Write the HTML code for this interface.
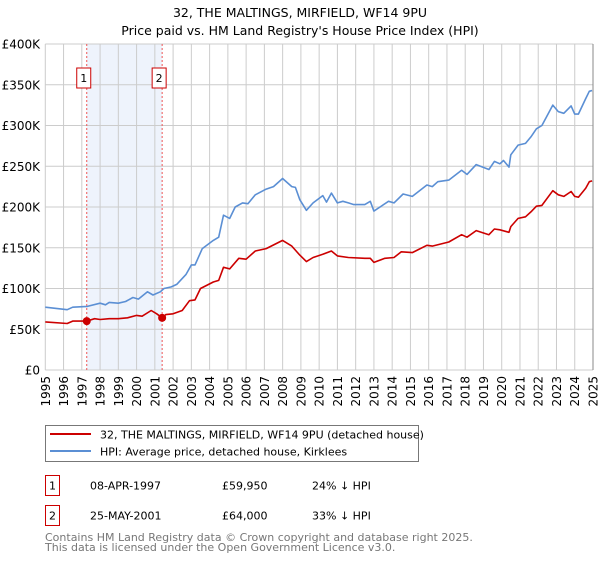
<!DOCTYPE html>
<html><head><meta charset="utf-8"><style>
body{margin:0;background:#fff;width:600px;height:560px;overflow:hidden;font-family:"DejaVu Sans","Liberation Sans",sans-serif}
svg text{font-family:"DejaVu Sans","Liberation Sans",sans-serif}
</style></head><body>
<svg id="c" width="600" height="560" xmlns="http://www.w3.org/2000/svg">
<text x="300" y="17" text-anchor="middle" font-size="12.5" fill="#000">32, THE MALTINGS, MIRFIELD, WF14 9PU</text>
<text x="300" y="35" text-anchor="middle" font-size="12.5" fill="#000">Price paid vs. HM Land Registry's House Price Index (HPI)</text>
<g id="grid"></g><g id="marks"></g><g id="axes"></g>
<g>
<rect x="45.5" y="425.5" width="373" height="36" fill="#fff" stroke="#777"/>
<line x1="50" y1="434" x2="91" y2="434" stroke="#cc0000" stroke-width="2"/>
<text x="100" y="438.5" font-size="11">32, THE MALTINGS, MIRFIELD, WF14 9PU (detached house)</text>
<line x1="50" y1="451" x2="91" y2="451" stroke="#5b8fd4" stroke-width="2"/>
<text x="100" y="455.5" font-size="11">HPI: Average price, detached house, Kirklees</text>
</g>
<g font-size="11">
<rect x="45.5" y="475.5" width="14" height="20" fill="#fff" stroke="#cc0000"/>
<text x="52.5" y="489.5" text-anchor="middle">1</text>
<text x="90" y="489.5">08-APR-1997</text>
<text x="222" y="489.5">£59,950</text>
<text x="312" y="489.5">24% ↓ HPI</text>
<rect x="45.5" y="505.5" width="14" height="20" fill="#fff" stroke="#cc0000"/>
<text x="52.5" y="519.5" text-anchor="middle">2</text>
<text x="90" y="519.5">25-MAY-2001</text>
<text x="222" y="519.5">£64,000</text>
<text x="312" y="519.5">33% ↓ HPI</text>
</g>
<text x="45" y="541" font-size="11" fill="#777">Contains HM Land Registry data © Crown copyright and database right 2025.</text>
<text x="45" y="551" font-size="11" fill="#777">This data is licensed under the Open Government Licence v3.0.</text>
</svg>
<script>
const yTicks=[0,50,100,150,200,250,300,350,400];
const yTickLabels=["£0","£50K","£100K","£150K","£200K","£250K","£300K","£350K","£400K"];
const xYears=[1995,1996,1997,1998,1999,2000,2001,2002,2003,2004,2005,2006,2007,2008,2009,2010,2011,2012,2013,2014,2015,2016,2017,2018,2019,2020,2021,2022,2023,2024,2025];
const hpiT=[1995,1996.2,1996.5,1997.3,1998,1998.3,1998.5,1999,1999.4,1999.8,2000.1,2000.6,2000.9,2001.3,2001.5,2001.9,2002.2,2002.7,2003,2003.2,2003.6,2004.2,2004.5,2004.76,2005.1,2005.4,2005.8,2006.1,2006.5,2007.1,2007.5,2008,2008.5,2008.7,2008.94,2009.3,2009.67,2010.2,2010.4,2010.67,2011,2011.3,2011.6,2011.9,2012.5,2012.8,2013,2013.8,2014.1,2014.6,2015.1,2015.9,2016.2,2016.5,2017.1,2017.8,2018.1,2018.6,2019.3,2019.6,2019.9,2020.1,2020.4,2020.5,2020.9,2021.3,2021.6,2021.9,2022.2,2022.8,2023.1,2023.4,2023.8,2024,2024.2,2024.6,2024.8,2024.95];
const hpiV=[77,74,77,78,82,80,83,82,84,89,87,96,92,96,100,102,105,117,129,129,149,159,163,190,186,200,205,204,215,222,225,235,225,224,209,196,205,214,206,217,205,207,205,203,203,207,195,207,205,216,213,227,225,231,233,245,240,252,246,256,253,257,249,264,276,278,286,296,300,325,317,315,324,314,314,333,342,343];
const ppT=[1995,1996.2,1996.5,1997,1997.27,1997.7,1998,1998.5,1999,1999.5,2000,2000.3,2000.8,2001.1,2001.4,2001.6,2002,2002.5,2002.9,2003.2,2003.5,2004.2,2004.5,2004.76,2005.1,2005.6,2006,2006.5,2007.1,2008,2008.5,2008.94,2009.3,2009.67,2010.2,2010.67,2011,2011.6,2012.5,2012.8,2013,2013.6,2014.1,2014.5,2015.1,2015.9,2016.2,2017.1,2017.8,2018.1,2018.6,2019.3,2019.6,2019.9,2020.4,2020.5,2020.9,2021.3,2021.6,2021.9,2022.2,2022.8,2023.1,2023.4,2023.8,2024,2024.2,2024.6,2024.8,2024.95];
const ppV=[59,57,60,60,59.95,63,62,63,63,64,67,66,73,69,64,68,69,73,85,86,100,108,110,126,124,137,136,146,149,159,152,141,133,138,142,146,140,138,137,137,132,137,138,145,144,153,152,157,166,163,171,166,173,172,169,176,186,188,194,201,202,220,215,213,219,213,212,223,231,232];
const saleT=[1997.27,2001.4];
const saleV=[59.95,64];
const saleLabels=["1","2"];
const NS="http://www.w3.org/2000/svg";
const X0=45.3,X1=593,Y0=370,Y1=44;
const xs=t=>X0+(t-1995)/(2025-1995)*(X1-X0);
const ys=v=>Y0-v/400*(Y0-Y1);
function mk(tag,attrs,parent){const e=document.createElementNS(NS,tag);for(const k in attrs)e.setAttribute(k,attrs[k]);parent.appendChild(e);return e;}
const grid=document.getElementById('grid'),marks=document.getElementById('marks'),axes=document.getElementById('axes');
const shade=mk('rect',{x:xs(saleT[0]),y:Y1,width:xs(saleT[1])-xs(saleT[0]),height:Y0-Y1,fill:'#eef3fc'},grid);


yTicks.forEach((v,i)=>{
 const l=mk('line',{x1:X0,x2:X1,y1:ys(v),y2:ys(v),stroke:'#cccccc','stroke-width':1},grid);
 
 
 const t=mk('text',{x:40,y:ys(v)+4.5,'text-anchor':'end','font-size':12},axes);
 t.textContent=yTickLabels[i];
 
 
});
xYears.forEach(yr=>{
 const l=mk('line',{x1:xs(yr),x2:xs(yr),y1:Y1,y2:Y0,stroke:'#cccccc','stroke-width':1},grid);
 
 
 const t=mk('text',{x:0,y:0,'font-size':12,'text-anchor':'end',transform:`translate(${xs(yr)+4.5},376) rotate(-90)`},axes);
 t.textContent=yr;
 
 
});
saleT.forEach((t,i)=>{
 const l=mk('line',{x1:xs(t),x2:xs(t),y1:Y1,y2:Y0,stroke:'#ee5555','stroke-width':1,'stroke-dasharray':'2,2'},marks);
 
 
 const bx=xs(t)-3;
 const r=mk('rect',{x:bx-7,y:68,width:14,height:20,fill:'#fff',stroke:'#cc0000'},marks);
 
 
 const tx=mk('text',{x:bx,y:82,'text-anchor':'middle','font-size':11},marks);
 tx.textContent=saleLabels[i];
 
 
});
function path(T,V,col,name){
 const d=T.map((t,i)=>(i?'L':'M')+xs(t).toFixed(1)+','+ys(V[i]).toFixed(1)).join('');
 const p=mk('path',{d:d,fill:'none',stroke:col,'stroke-width':1.6,'stroke-linejoin':'round'},marks);
 
 
}
path(hpiT,hpiV,'#5b8fd4','hpi-line');
path(ppT,ppV,'#cc0000','property-price-line');
saleT.forEach((t,i)=>{
 const c=mk('circle',{cx:xs(t),cy:ys(saleV[i]),r:4,fill:'#cc0000'},marks);
 
 
});
const ax=mk('line',{x1:X1,x2:X1,y1:Y1,y2:Y0,stroke:'#888'},axes);


</script>
</body></html>
